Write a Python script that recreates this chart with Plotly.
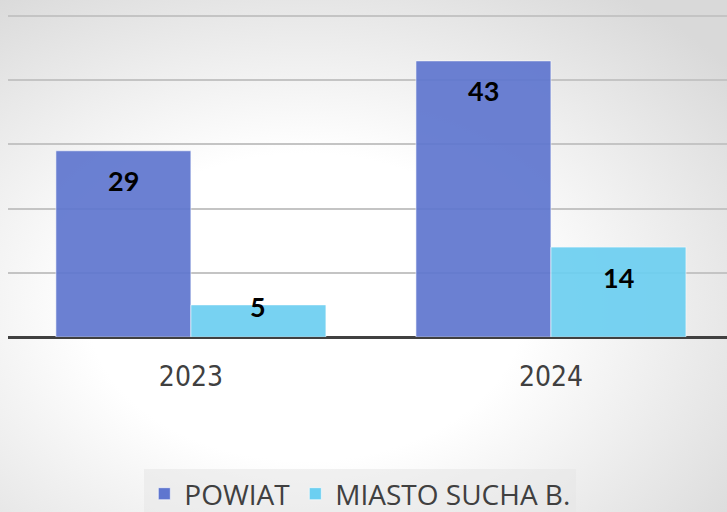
import base64
import plotly.graph_objects as go

years = ["2023", "2024"]
powiat = [29, 43]
miasto = [5, 14]
series_names = ["POWIAT", "MIASTO SUCHA B."]
series_colors = ["#5f76cf", "#6ccff1"]

W, H = 727, 512
Y_MAX = 50
Y_TOP = 50.3
ML, MR, MB = 8, 0, 175
MT = 14
plot_h = H - MT - MB
px_per_unit = plot_h / Y_TOP

fig = go.Figure()
for name, vals, col in zip(series_names, [powiat, miasto], series_colors):
    fig.add_trace(go.Bar(
        x=years, y=vals, name=name,
        marker=dict(color=col, opacity=0.92, line=dict(color="rgba(255,255,255,0.6)", width=1)),
        hoverinfo="skip",
    ))

# value labels inside end of each bar
bar_half = 0.375 / 2
for i, vals in enumerate([powiat, miasto]):
    off = -bar_half if i == 0 else bar_half
    for j, v in enumerate(vals):
        bar_px = v * px_per_unit
        shift = -30 if bar_px > 50 else -2
        fig.add_annotation(
            x=j + off, y=v, xref="x", yref="y", text=str(v), showarrow=False,
            yshift=shift, yanchor="middle",
            font=dict(family="Lato, DejaVu Sans, sans-serif", size=27, color="#000000", weight="bold"),
        )

# radial gradient background
svg = ('<svg xmlns="http://www.w3.org/2000/svg" width="727" height="512">'
       '<defs><radialGradient id="g" cx="0.42" cy="0.6" r="0.75">'
       '<stop offset="0" stop-color="#ffffff"/><stop offset="0.4" stop-color="#ffffff"/>'
       '<stop offset="1" stop-color="#d9d9d9"/></radialGradient></defs>'
       '<rect width="727" height="512" fill="url(#g)"/></svg>')
src = "data:image/svg+xml;base64," + base64.b64encode(svg.encode()).decode()
pw = W - ML - MR
fig.add_layout_image(dict(
    source=src, xref="paper", yref="paper",
    x=-ML / pw, y=1 + MT / plot_h, sizex=W / pw, sizey=H / plot_h,
    sizing="stretch", layer="below", xanchor="left", yanchor="top",
))

fig.update_layout(
    width=W, height=H,
    margin=dict(l=ML, r=MR, t=MT, b=MB, autoexpand=False),
    paper_bgcolor="#eeeeee",
    plot_bgcolor="rgba(0,0,0,0)",
    barmode="group", bargap=0.25, bargroupgap=0,
    xaxis=dict(
        range=[-0.508, 1.489], showgrid=False, zeroline=False,
        showline=False, ticks="outside", ticklen=14, tickcolor="rgba(0,0,0,0)",
        tickfont=dict(family="DejaVu Sans Condensed, DejaVu Sans, sans-serif", size=28, color="#404040"),
    ),
    yaxis=dict(
        range=[0, Y_TOP], tickvals=[10, 20, 30, 40, 50], showticklabels=False,
        showgrid=True, gridcolor="#c4c4c4", gridwidth=2,
        zeroline=True, zerolinecolor="#404040", zerolinewidth=3,
    ),
    legend=dict(
        orientation="h", x=0.49, xanchor="center", y=(H - MB - 469) / plot_h, yanchor="top",
        bgcolor="rgba(230,230,230,0.55)",
        font=dict(family="Open Sans, DejaVu Sans, sans-serif", size=28, color="#404040"),
        itemwidth=30, traceorder="normal",
    ),
    showlegend=True,
)

fig.write_html(
    "out.html",
    config={"displayModeBar": False},
    post_script="document.body.style.margin='0';document.body.style.overflow='hidden';",
)
